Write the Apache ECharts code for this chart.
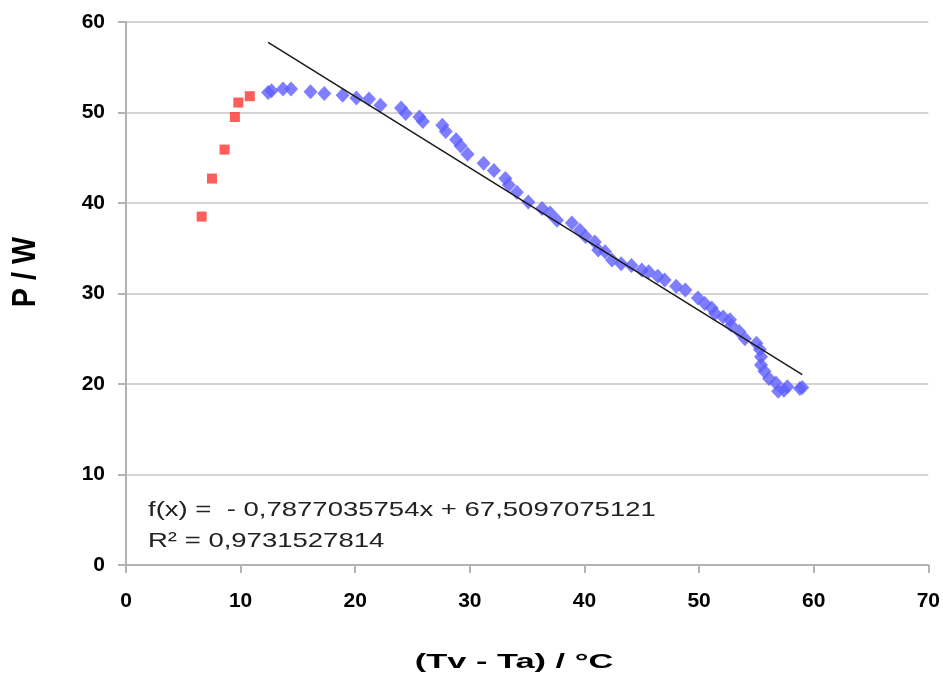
<!DOCTYPE html>
<html>
<head>
<meta charset="utf-8">
<script src="https://cdn.jsdelivr.net/npm/echarts@6/dist/echarts.min.js"></script>
<style>
  html, body { margin: 0; padding: 0; background: #fff; }
  #main { width: 943px; height: 679px; }
</style>
</head>
<body>
<div id="main"></div>
<script>
// valeurs
var redX = [6.6, 7.5, 8.6, 9.5, 9.8, 10.8];
var redY = [38.5, 42.7, 45.9, 49.5, 51.1, 51.8];

var blueX = [12.4, 12.7, 13.7, 14.4, 16.1, 17.3, 18.9, 20.1, 21.2, 22.2, 24.0, 24.4, 25.6, 25.9,
  27.6, 27.9, 28.8, 29.2, 29.8, 31.2, 32.1, 33.1, 33.4, 34.1, 35.1, 36.3, 37.0, 37.6, 38.9,
  39.6, 40.1, 40.9, 41.2, 41.8, 42.4, 43.2, 44.1, 45.0, 45.6, 46.4, 47.0, 48.0, 48.8, 49.9,
  50.5, 51.1, 51.4, 52.1, 52.7, 52.8, 53.5, 54.0, 55.0, 55.3, 55.4, 55.4, 55.7, 56.1, 56.7,
  56.9, 57.4, 57.7, 58.8, 59.0];
var blueY = [52.2, 52.4, 52.6, 52.6, 52.3, 52.1, 51.9, 51.6, 51.5, 50.8, 50.5, 49.9, 49.5, 49.0,
  48.6, 47.9, 47.0, 46.3, 45.4, 44.4, 43.6, 42.7, 42.0, 41.2, 40.1, 39.4, 38.9, 38.1, 37.8,
  37.0, 36.3, 35.7, 34.8, 34.6, 33.7, 33.3, 33.1, 32.6, 32.4, 31.9, 31.5, 30.8, 30.4, 29.5,
  28.9, 28.4, 27.8, 27.4, 27.1, 26.5, 25.8, 25.0, 24.5, 23.8, 23.0, 22.1, 21.4, 20.6, 20.1,
  19.2, 19.3, 19.7, 19.5, 19.6];

// droite de régression
var pente = -0.7877035754;
var ordonnee = 67.5097075121;
var equation = 'f(x) =  - 0,7877035754x + 67,5097075121';
var r2 = 'R² = 0,9731527814';

var xTicks = [0, 10, 20, 30, 40, 50, 60, 70];
var yTicks = [0, 10, 20, 30, 40, 50, 60];

function pairs(xs, ys) {
  return xs.map(function (x, i) { return [x, ys[i]]; });
}
var xMin = Math.min.apply(null, blueX), xMax = Math.max.apply(null, blueX);
var trend = [[xMin, pente * xMin + ordonnee], [xMax, pente * xMax + ordonnee]];

var chart = echarts.init(document.getElementById('main'));
var font = '"Liberation Sans", Arial, sans-serif';

var option = {
  animation: false,
  backgroundColor: '#fff',
  grid: { left: 126, right: 11, top: 22, bottom: 114 },
  xAxis: {
    type: 'value',
    min: xTicks[0], max: xTicks[xTicks.length - 1], interval: 10,
    axisLine: { show: true, lineStyle: { color: '#b3b3b3', width: 2 } },
    axisTick: { show: true, length: 8, lineStyle: { color: '#b3b3b3', width: 2 } },
    axisLabel: { color: '#000', fontWeight: 700, fontSize: 21, fontFamily: 'Liberation Sans', margin: 26 },
    splitLine: { show: false }
  },
  yAxis: {
    type: 'value',
    min: yTicks[0], max: yTicks[yTicks.length - 1], interval: 10,
    axisLine: { show: true, lineStyle: { color: '#b3b3b3', width: 2 } },
    axisTick: { show: true, length: 8, lineStyle: { color: '#b3b3b3', width: 2 } },
    axisLabel: { color: '#000', fontWeight: 700, fontSize: 21, fontFamily: 'Liberation Sans', margin: 21 },
    splitLine: { show: true, lineStyle: { color: '#d4d4d4', width: 2 } }
  },
  graphic: [
    { type: 'text', x: 148, y: 510, scaleX: 1.31,
      style: { text: equation, fill: '#222', font: '21px ' + font, verticalAlign: 'middle' } },
    { type: 'text', x: 148, y: 541, scaleX: 1.31,
      style: { text: r2, fill: '#222', font: '21px ' + font, verticalAlign: 'middle' } },
    { type: 'text', x: 514, y: 662, scaleX: 1.72,
      style: { text: '(Tv - Ta) / °C', fill: '#000', font: 'bold 20px ' + font, align: 'center', verticalAlign: 'middle' } },
    { type: 'text', x: 26, y: 272, rotation: Math.PI / 2, scaleX: 1.37, scaleY: 1.55,
      style: { text: 'P / W', fill: '#000', font: 'bold 21px ' + font, align: 'center', verticalAlign: 'middle' } }
  ],
  series: [
    {
      type: 'scatter', data: pairs(redX, redY),
      symbol: 'rect', symbolSize: 10,
      itemStyle: { color: '#ff3333' }
    },
    {
      type: 'scatter', data: pairs(blueX, blueY),
      symbol: 'diamond', symbolSize: [14, 15],
      itemStyle: { color: '#5e5eff' }
    },
    {
      type: 'line', data: trend, showSymbol: false, symbol: 'none',
      lineStyle: { color: '#1a1a1a', width: 1.5 }, z: 3
    }
  ]
};

chart.setOption(option);
</script>
</body>
</html>
